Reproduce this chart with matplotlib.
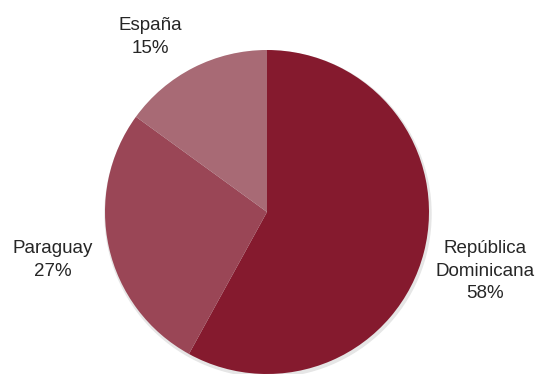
import matplotlib.pyplot as plt

# share of each destination country
countries = ['República\nDominicana', 'Paraguay', 'España']
shares = [58, 27, 15]
colors = ['#851A2E', '#9A4656', '#A86A75']

plt.rcParams['font.family'] = ['Liberation Sans', 'DejaVu Sans']

fig = plt.figure(figsize=(5.38, 3.74), dpi=100)
ax = fig.add_axes([0, 0, 1, 1])

cx, cy, r = 267, 162, 162

# faint shadow under the pie
shadow = plt.Circle((cx + 1, cy - 2), r + 1, color='#e6e6e6', zorder=0)
ax.add_patch(shadow)

wedges, _ = ax.pie(shares, colors=colors, startangle=90, counterclock=False,
                   center=(cx, cy), radius=r, frame=True)
ax.set_xlim(0, 538)
ax.set_ylim(0, 374)
ax.set_aspect('equal')
ax.axis('off')

# label positions, one per slice
label_pos = [(485, 103), (53, 114), (150, 337)]
for name, val, (lx, ly) in zip(countries, shares, label_pos):
    ax.text(lx, ly, f'{name}\n{val}%', ha='center', va='center',
            fontsize=13.5, color='#262626', linespacing=1.4)

fig.savefig('out.png', dpi=100)
